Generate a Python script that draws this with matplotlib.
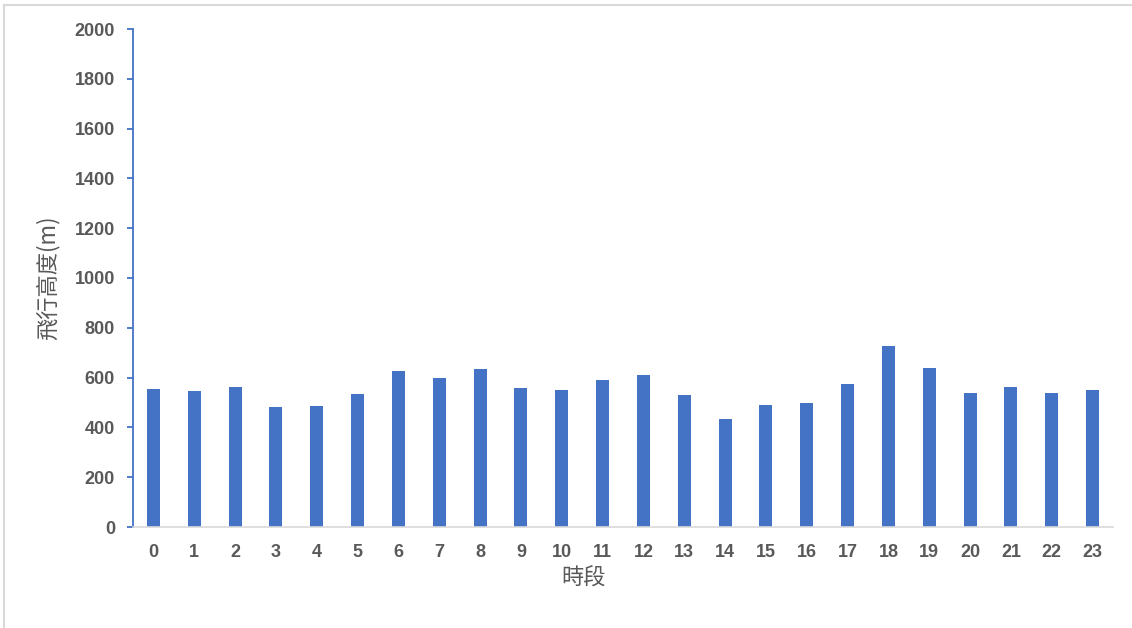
import matplotlib.pyplot as plt
from matplotlib.lines import Line2D

# hourly flight altitude (m)
hours = [str(h) for h in range(24)]
altitude = [556, 548, 564, 480, 484, 536, 628, 599, 636, 560, 552, 591,
            611, 531, 434, 489, 497, 573, 725, 637, 539, 564, 539, 552]
yticks = list(range(0, 2001, 200))

blue = '#4472C4'
gray_txt = '#595959'

plt.rcParams['font.family'] = ['Liberation Sans', 'Noto Sans CJK TC', 'DejaVu Sans']

fig = plt.figure(figsize=(11.32, 6.28), dpi=100)
ax = fig.add_axes([133 / 1132, 101 / 628, 980 / 1132, 498 / 628])

ax.bar(range(len(hours)), altitude, width=0.32, color=blue)

ax.set_xlim(-0.5, len(hours) - 0.5)
ax.set_ylim(0, 2000)
ax.set_yticks(yticks)
ax.set_xticks(range(len(hours)))
ax.set_xticklabels(hours)

for s in ['top', 'right']:
    ax.spines[s].set_visible(False)
ax.spines['left'].set_color(blue)
ax.spines['left'].set_linewidth(1.3)
ax.spines['bottom'].set_color('#D9D9D9')
ax.spines['bottom'].set_linewidth(1.2)

ax.tick_params(axis='y', length=4, width=1.3, color=blue, pad=9,
               labelsize=13, labelcolor=gray_txt)
ax.tick_params(axis='x', length=0, pad=12, labelsize=13, labelcolor=gray_txt)
for lab in ax.get_xticklabels() + ax.get_yticklabels():
    lab.set_fontweight('bold')

ax.text(-0.087, 0.5, '飛行高度(m)', transform=ax.transAxes, rotation=90,
        ha='center', va='center', fontsize=16, color=gray_txt,
        family=['Noto Sans CJK TC', 'DejaVu Sans'])
ax.text(0.46, -0.103, '時段', transform=ax.transAxes, ha='center', va='center',
        fontsize=16, color=gray_txt, family=['Noto Sans CJK TC', 'DejaVu Sans'])

# light frame on the top and left edges
fig.add_artist(Line2D([4 / 1132, 1], [1 - 5 / 628, 1 - 5 / 628],
                      transform=fig.transFigure, color='#D9D9D9', lw=1.5))
fig.add_artist(Line2D([4 / 1132, 4 / 1132], [0, 1 - 5 / 628],
                      transform=fig.transFigure, color='#D9D9D9', lw=1.5))

fig.savefig('out.png', dpi=100)
